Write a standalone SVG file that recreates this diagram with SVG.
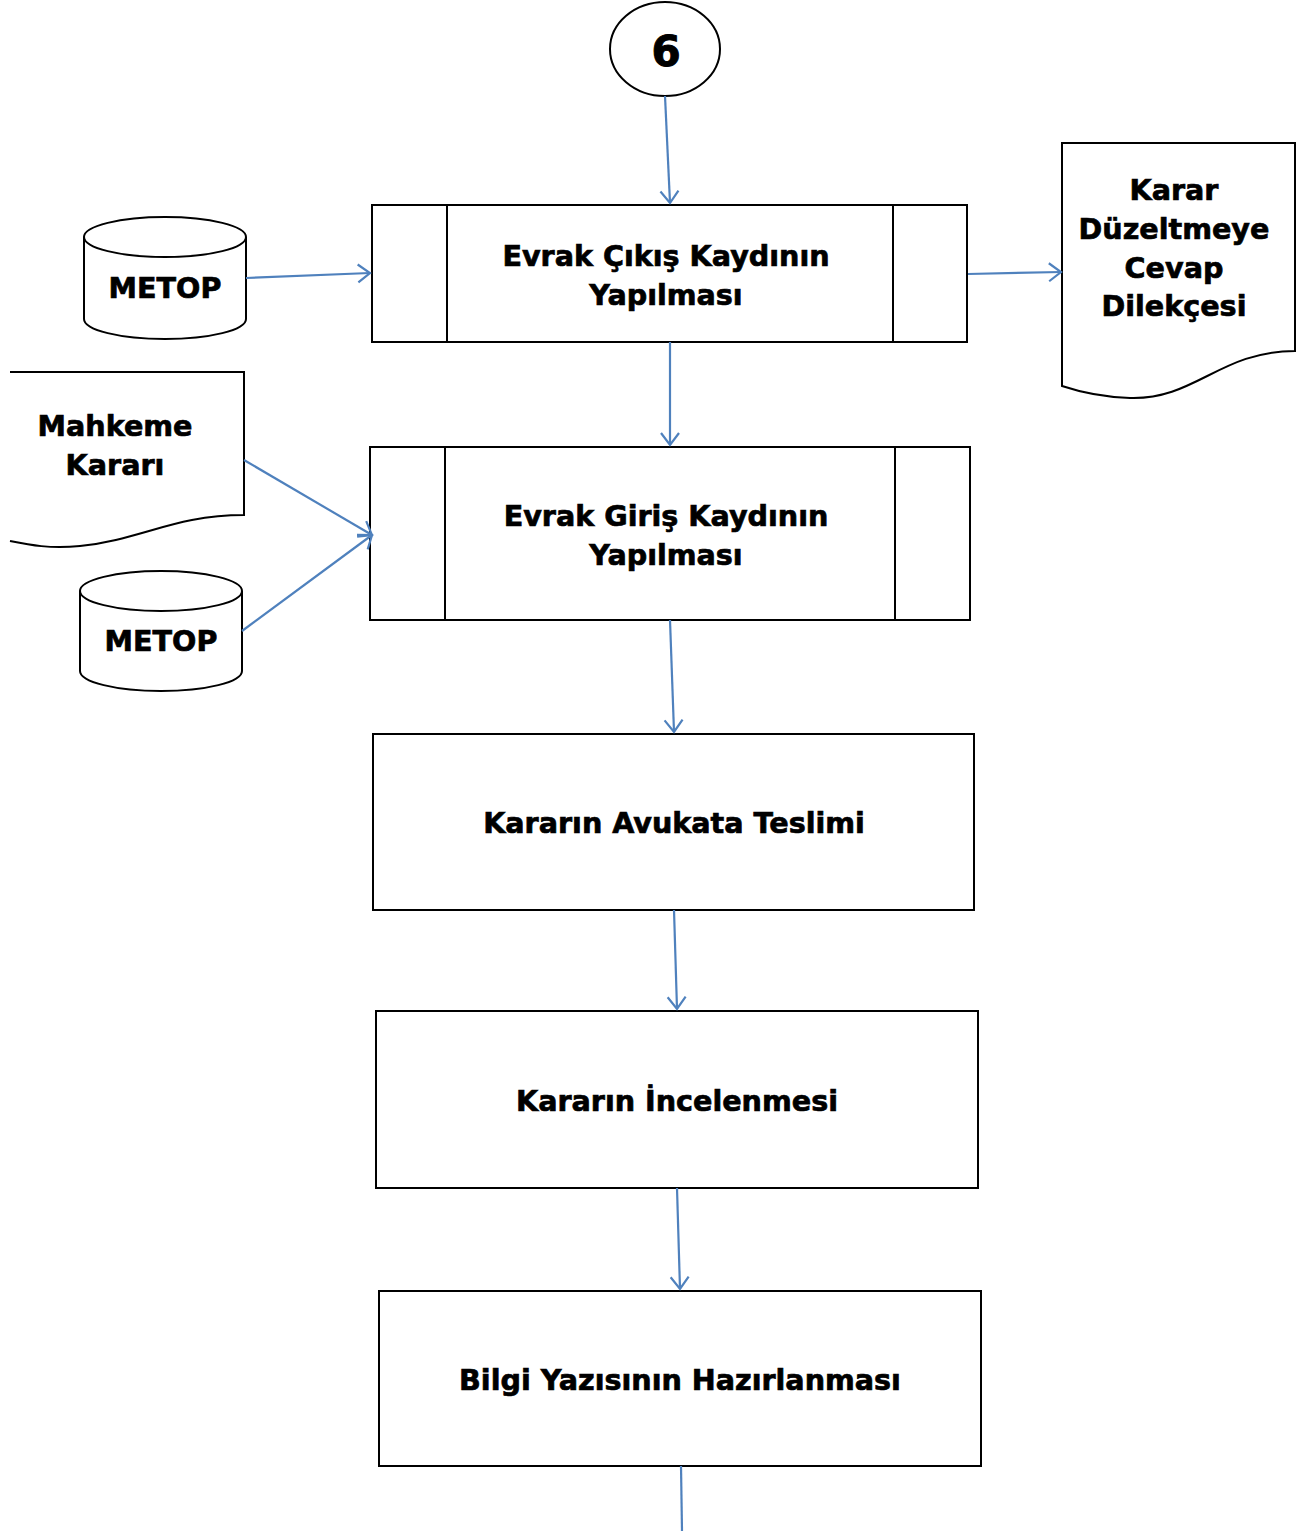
<svg xmlns="http://www.w3.org/2000/svg" width="1304" height="1531" viewBox="0 0 1304 1531">
<style>
.s{fill:#fff;stroke:#000;stroke-width:2}
.t{font-family:"DejaVu Sans","Liberation Sans",sans-serif;font-weight:bold;font-size:28.6px;fill:#000;stroke:#000;stroke-width:0.7;text-anchor:middle}
.c{fill:none;stroke:#4F81BD;stroke-width:2.2}
</style>
<defs>
<marker id="a" markerUnits="userSpaceOnUse" markerWidth="30" markerHeight="30" viewBox="-15 -15 30 30" refX="0" refY="0" orient="auto">
<path d="M-12,-9 L0,0 L-12,9" fill="none" stroke="#4F81BD" stroke-width="2.2"/>
</marker>
</defs>
<rect width="1304" height="1531" fill="#fff"/>
<g id="n6"><ellipse class="s" cx="665" cy="49" rx="55" ry="47"/><text class="t" x="666" y="66" style="font-size:42px;stroke-width:1">6</text></g>
<g id="cikis"><rect class="s" x="372" y="205" width="595" height="137"/><line class="s" x1="447" y1="205" x2="447" y2="342"/><line class="s" x1="893" y1="205" x2="893" y2="342"/><text class="t" x="666" y="266">Evrak Çıkış Kaydının</text><text class="t" x="666" y="305">Yapılması</text></g>
<g id="metop1"><path class="s" d="M84,237 V319 A81,20 0 0 0 246,319 V237"/><ellipse class="s" cx="165" cy="237" rx="81" ry="20"/><text class="t" x="165" y="298">METOP</text></g>
<g id="karardoc"><path class="s" d="M1062,143 H1295 V351 C1220,351 1195,400 1130,398 C1100,397 1080,392 1062,386 Z"/><text class="t" x="1174" y="200">Karar</text><text class="t" x="1174" y="239">Düzeltmeye</text><text class="t" x="1174" y="278">Cevap</text><text class="t" x="1174" y="316">Dilekçesi</text></g>
<g id="giris"><rect class="s" x="370" y="447" width="600" height="173"/><line class="s" x1="445" y1="447" x2="445" y2="620"/><line class="s" x1="895" y1="447" x2="895" y2="620"/><text class="t" x="666" y="526">Evrak Giriş Kaydının</text><text class="t" x="666" y="565">Yapılması</text></g>
<g id="mahkeme"><path class="s" d="M10,372 H244 V515 C175,515 140,540 80,546 C50,549 30,545 10,541"/><text class="t" x="115" y="436">Mahkeme</text><text class="t" x="115" y="475">Kararı</text></g>
<g id="metop2"><path class="s" d="M80,591 V671 A81,20 0 0 0 242,671 V591"/><ellipse class="s" cx="161" cy="591" rx="81" ry="20"/><text class="t" x="161" y="651">METOP</text></g>
<g id="teslim"><rect class="s" x="373" y="734" width="601" height="176"/><text class="t" x="674" y="833">Kararın Avukata Teslimi</text></g>
<g id="inceleme"><rect class="s" x="376" y="1011" width="602" height="177"/><text class="t" x="677" y="1111">Kararın İncelenmesi</text></g>
<g id="bilgi"><rect class="s" x="379" y="1291" width="602" height="175"/><text class="t" x="680" y="1390">Bilgi Yazısının Hazırlanması</text></g>
<g id="connectors">
<line class="c" x1="665" y1="96" x2="670" y2="203" marker-end="url(#a)"/>
<line class="c" x1="246" y1="278" x2="370" y2="273" marker-end="url(#a)"/>
<line class="c" x1="968" y1="274" x2="1061" y2="272" marker-end="url(#a)"/>
<line class="c" x1="670" y1="342" x2="670" y2="445" marker-end="url(#a)"/>
<line class="c" x1="244" y1="460" x2="372" y2="535" marker-end="url(#a)"/>
<line class="c" x1="242" y1="631" x2="372" y2="535" marker-end="url(#a)"/>
<line class="c" x1="670" y1="620" x2="674" y2="732" marker-end="url(#a)"/>
<line class="c" x1="674" y1="910" x2="677" y2="1009" marker-end="url(#a)"/>
<line class="c" x1="677" y1="1188" x2="680" y2="1289" marker-end="url(#a)"/>
<line class="c" x1="681" y1="1466" x2="682" y2="1531"/>
</g>
</svg>
